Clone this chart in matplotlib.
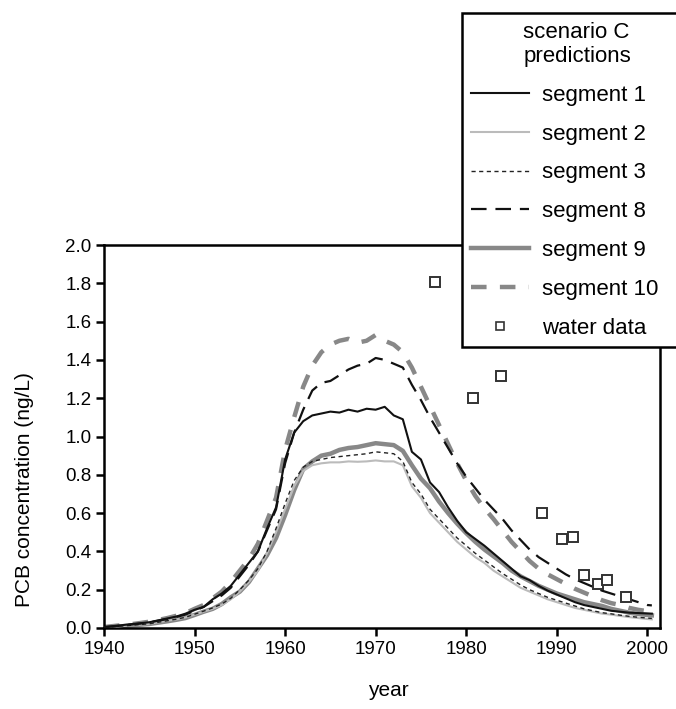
import matplotlib
matplotlib.use("Agg")
import matplotlib.pyplot as plt
from matplotlib.lines import Line2D

plt.rcParams['font.family'] = ['Liberation Sans', 'DejaVu Sans']

# yearly model output (ng/L)
years = list(range(1940, 2001)) + [2000.5]

seg1 = [0.005, 0.01, 0.015, 0.02, 0.025, 0.03, 0.04, 0.05, 0.06, 0.075,
        0.095, 0.11, 0.15, 0.18, 0.22, 0.28, 0.34, 0.40, 0.52, 0.63,
        0.88, 1.02, 1.08, 1.11, 1.12, 1.13, 1.125, 1.14, 1.13, 1.145,
        1.14, 1.155, 1.11, 1.09, 0.92, 0.88, 0.76, 0.71, 0.63, 0.56,
        0.50, 0.465, 0.43, 0.39, 0.35, 0.31, 0.27, 0.25, 0.22, 0.195,
        0.175, 0.155, 0.135, 0.12, 0.11, 0.10, 0.09, 0.085, 0.08, 0.078,
        0.076, 0.075]
seg2 = [0.003, 0.006, 0.01, 0.014, 0.018, 0.022, 0.03, 0.038, 0.045, 0.055,
        0.07, 0.085, 0.10, 0.12, 0.15, 0.19, 0.24, 0.30, 0.39, 0.50,
        0.62, 0.74, 0.82, 0.85, 0.86, 0.865, 0.865, 0.87, 0.868, 0.87,
        0.875, 0.87, 0.87, 0.85, 0.74, 0.68, 0.60, 0.55, 0.50, 0.45,
        0.41, 0.37, 0.34, 0.30, 0.27, 0.24, 0.21, 0.19, 0.17, 0.15,
        0.135, 0.12, 0.105, 0.095, 0.085, 0.075, 0.07, 0.063, 0.057, 0.052,
        0.047, 0.045]
seg3 = [0.003, 0.006, 0.01, 0.014, 0.018, 0.022, 0.03, 0.038, 0.046, 0.056,
        0.072, 0.088, 0.105, 0.125, 0.155, 0.20, 0.25, 0.31, 0.40, 0.52,
        0.65, 0.77, 0.84, 0.87, 0.88, 0.89, 0.895, 0.90, 0.905, 0.91,
        0.92, 0.915, 0.91, 0.87, 0.76, 0.70, 0.62, 0.57, 0.52, 0.47,
        0.43, 0.39, 0.355, 0.32, 0.285, 0.255, 0.225, 0.20, 0.18, 0.16,
        0.145, 0.13, 0.115, 0.10, 0.09, 0.08, 0.074, 0.067, 0.061, 0.056,
        0.052, 0.05]
seg8 = [0.004, 0.008, 0.013, 0.018, 0.023, 0.03, 0.038, 0.047, 0.058, 0.07,
        0.09, 0.11, 0.14, 0.17, 0.21, 0.27, 0.33, 0.40, 0.51, 0.62,
        0.86, 1.02, 1.14, 1.24, 1.28, 1.29, 1.32, 1.35, 1.37, 1.38,
        1.41, 1.40, 1.38, 1.36, 1.27, 1.19, 1.10, 1.02, 0.94, 0.86,
        0.79, 0.73, 0.67, 0.62, 0.57, 0.51, 0.46, 0.41, 0.37, 0.34,
        0.31, 0.28, 0.255, 0.235, 0.215, 0.195, 0.18, 0.165, 0.15, 0.135,
        0.12, 0.118]
seg9 = [0.003, 0.005, 0.009, 0.013, 0.017, 0.021, 0.028, 0.035, 0.043, 0.052,
        0.068, 0.085, 0.10, 0.125, 0.16, 0.19, 0.24, 0.31, 0.38, 0.47,
        0.59, 0.72, 0.83, 0.87, 0.90, 0.91, 0.93, 0.94, 0.945, 0.955,
        0.965, 0.96, 0.955, 0.925, 0.85, 0.78, 0.73, 0.66, 0.60, 0.545,
        0.495, 0.45, 0.41, 0.375, 0.34, 0.30, 0.27, 0.245, 0.22, 0.20,
        0.18, 0.165, 0.15, 0.135, 0.125, 0.115, 0.10, 0.09, 0.08, 0.073,
        0.068, 0.066]
seg10 = [0.005, 0.01, 0.015, 0.02, 0.026, 0.033, 0.042, 0.052, 0.064, 0.078,
         0.10, 0.12, 0.155, 0.19, 0.24, 0.30, 0.36, 0.44, 0.56, 0.68,
         0.93, 1.10, 1.26, 1.37, 1.44, 1.48, 1.50, 1.51, 1.49, 1.50,
         1.53, 1.50, 1.48, 1.44, 1.36, 1.26, 1.16, 1.06, 0.96, 0.86,
         0.77, 0.69, 0.625, 0.57, 0.51, 0.45, 0.40, 0.35, 0.31, 0.28,
         0.255, 0.23, 0.205, 0.185, 0.165, 0.145, 0.13, 0.12, 0.105, 0.095,
         0.088, 0.085]

# measured water concentrations
obs_year = [1976.5, 1980.7, 1983.8, 1988.4, 1990.6, 1991.8, 1993.0, 1994.6, 1995.5, 1997.6]
obs_pcb = [1.805, 1.203, 1.318, 0.599, 0.463, 0.475, 0.275, 0.228, 0.251, 0.160]

fig = plt.figure(figsize=(6.76, 7.09), dpi=100)
ax = fig.add_axes([104 / 676, 1 - 628 / 709, (660 - 104) / 676, (628 - 245) / 709])

ax.plot(years, seg10, color='#888888', lw=3.2, dashes=(3.5, 3), zorder=2)
ax.plot(years, seg9, color='#888888', lw=3.2, zorder=2)
ax.plot(years, seg2, color='#bbbbbb', lw=1.5, zorder=3)
ax.plot(years, seg3, color='#222222', lw=1.0, dashes=(3, 2.5), zorder=4)
ax.plot(years, seg8, color='#111111', lw=1.6, dashes=(7, 4), zorder=4)
ax.plot(years, seg1, color='#111111', lw=1.5, zorder=5)
ax.plot(obs_year, obs_pcb, ls='none', marker='s', ms=7, mfc='white',
        mec='#333333', mew=1.4, zorder=6)

ax.set_xlim(1940, 2001.4)
ax.set_ylim(0, 2.0)
ax.set_xticks(range(1940, 2001, 10))
ax.set_yticks([i / 10 for i in range(0, 21, 2)])
ax.yaxis.set_major_formatter(matplotlib.ticker.FormatStrFormatter('%.1f'))
for s in ax.spines.values():
    s.set_linewidth(1.8)
ax.tick_params(direction='out', length=6, width=1.8, labelsize=13.5, pad=3)
ax.set_xlabel('year', fontsize=15)
ax.xaxis.set_label_coords((388 - 104) / 556, -(690 - 628) / 383)
ax.set_ylabel('PCB concentration (ng/L)', fontsize=15)
ax.yaxis.set_label_coords((25 - 104) / 556, (628 - 490) / 383)
ax.xaxis.label.set_verticalalignment('center')
ax.yaxis.label.set_verticalalignment('center')

handles = [
    Line2D([], [], color='#111111', lw=1.5),
    Line2D([], [], color='#bbbbbb', lw=1.5),
    Line2D([], [], color='#222222', lw=1.0, dashes=(3, 2.5)),
    Line2D([], [], color='#111111', lw=1.6, dashes=(7, 4)),
    Line2D([], [], color='#888888', lw=3.2),
    Line2D([], [], color='#888888', lw=3.2, dashes=(3.5, 3)),
    Line2D([], [], ls='none', marker='s', ms=6, mfc='white', mec='#333333', mew=1.2),
]
labels = ['segment 1', 'segment 2', 'segment 3', 'segment 8',
          'segment 9', 'segment 10', 'water data']
# legend box runs off the right edge of the image, as in the original
leg_x0 = 462 / 676
leg_top = 1 - 13 / 709
leg = fig.legend(handles, labels, title='scenario C\npredictions',
                 loc='upper left',
                 bbox_to_anchor=(leg_x0, leg_top - 0.5, 230 / 676, 0.5),
                 mode='expand', borderaxespad=0, fontsize=16, title_fontsize=16,
                 handlelength=2.6, handletextpad=0.6, labelspacing=0.8,
                 borderpad=0.4, fancybox=False, framealpha=1)
leg.get_frame().set_edgecolor('black')
leg.get_frame().set_linewidth(1.8)

fig.savefig('out.png', dpi=100)
